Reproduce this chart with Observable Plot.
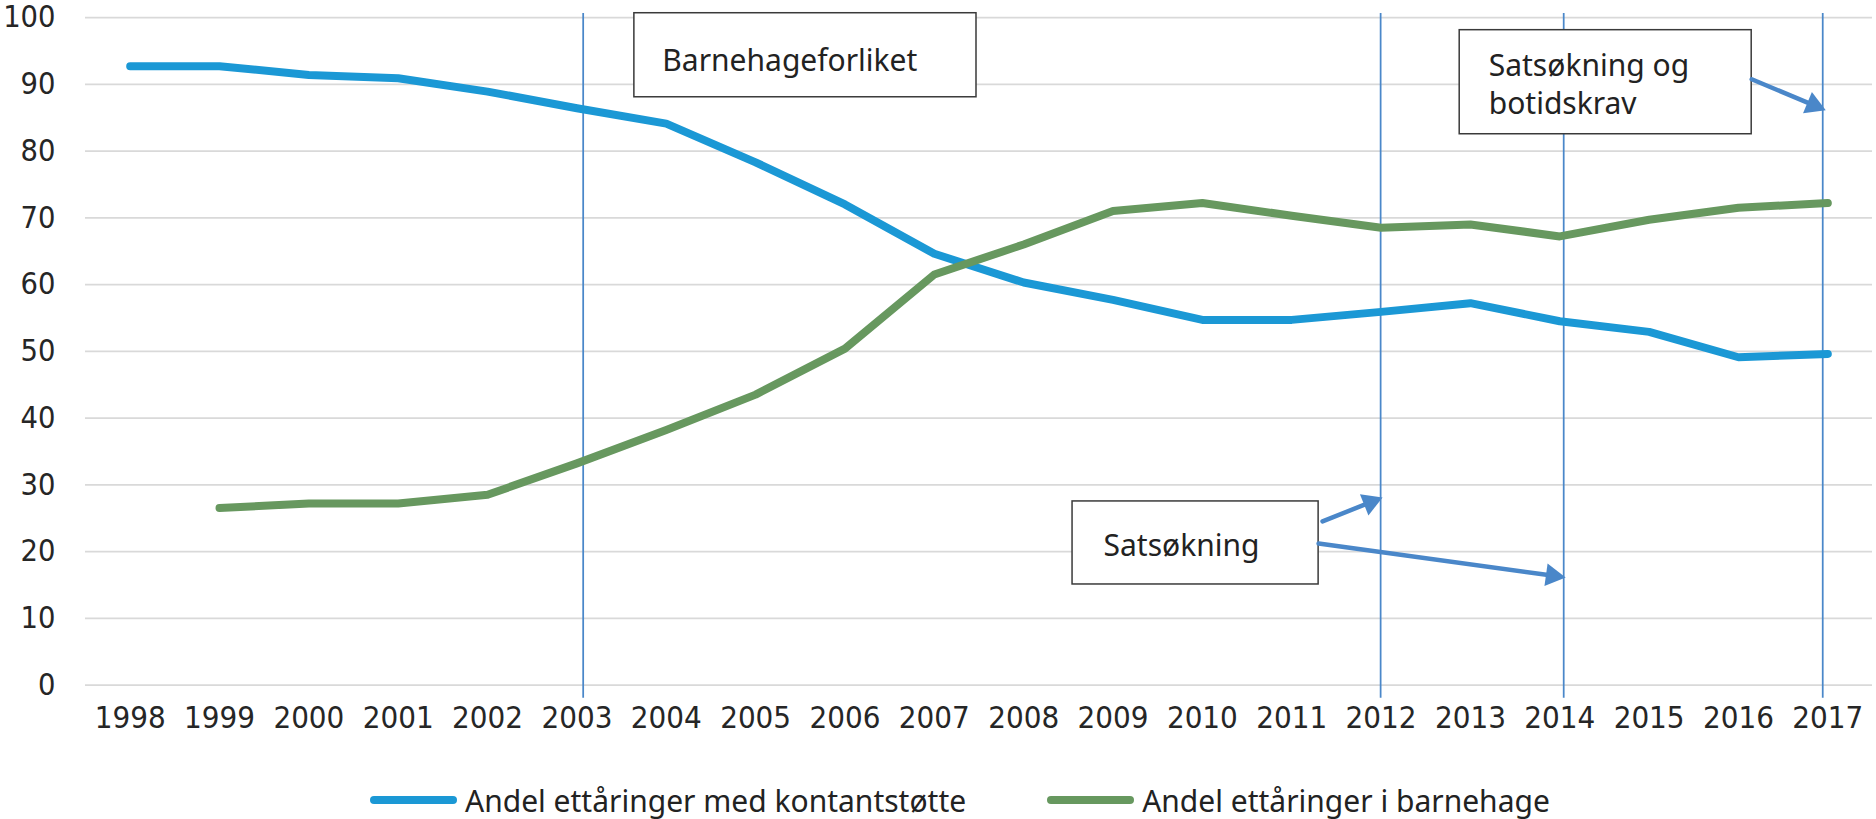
<!DOCTYPE html>
<html>
<head>
<meta charset="utf-8">
<script src="https://cdn.jsdelivr.net/npm/d3@7"></script>
<script src="https://cdn.jsdelivr.net/npm/@observablehq/plot@0.6"></script>
<style>
  body { margin: 0; background: #fff; }
  #chart { width: 1876px; }
  .legend { height: 59px; box-sizing: border-box; padding-top: 21px; padding-left: 370px; display: flex; align-items: center;
            font-family: "Noto Sans", sans-serif; font-size: 30px; color: #222; }
  .sw { width: 87px; height: 8px; border-radius: 4px; margin-right: 8px; }
  .item { display: flex; align-items: center; }
</style>
</head>
<body>
<div id="chart"></div>
<script>
// ---- data ----
const years = [1998,1999,2000,2001,2002,2003,2004,2005,2006,2007,2008,2009,2010,2011,2012,2013,2014,2015,2016,2017];
const kontantstotte = [92.7,92.7,91.4,90.9,88.9,86.4,84.1,78.3,72.0,64.6,60.3,57.7,54.7,54.7,55.9,57.2,54.5,52.9,49.1,49.6];
const barnehage = [null,26.5,27.2,27.2,28.5,33.2,38.2,43.5,50.4,61.5,66.0,71.0,72.2,70.3,68.5,69.0,67.2,69.7,71.5,72.2];
const seriesNames = ["Andel ettåringer med kontantstøtte", "Andel ettåringer i barnehage"];
const seriesColors = ["#1b98d5", "#67985f"];
const yTicks = [0,10,20,30,40,50,60,70,80,90,100];

// event lines (years, as drawn)
const eventYears = [2003.07, 2011.995, 2014.044, 2016.943];
const eventBottom = -2;
const eventTop = 100.6;

// annotation boxes
const boxLabels = ["Barnehageforliket", "Satsøkning og\nbotidskrav", "Satsøkning"];
const boxX1 = [2003.643, 2012.88, 2008.547];
const boxX2 = [2007.472, 2016.148, 2011.301];
const boxY1 = [100.64, 98.1, 27.5];
const boxY2 = [88.05, 82.51, 15.06];
const boxTextX = [2003.956, 2013.205, 2008.894];
const boxTextY = [95.94, 95.19, 23.25];

// arrows
const arrowX1 = [2016.148, 2011.345, 2011.301];
const arrowY1 = [90.75, 24.51, 21.21];
const arrowX2 = [2016.977, 2012.017, 2014.066];
const arrowY2 = [86.11, 28.10, 16.11];

// ---- layout ----
const W = 1876, H = 760, mL = 85, mR = 4, mT = 17, mB = 75.5;
const xDomain = [1997.5, 2017.5];
const yDomain = [0, 100];
const sx = d3.scaleLinear(xDomain, [mL, W - mR]);
const sy = d3.scaleLinear(yDomain, [H - mB, mT]);

const rows = [];
years.forEach((yr, i) => {
  rows.push({year: yr, value: kontantstotte[i], series: seriesNames[0]});
  if (barnehage[i] != null) rows.push({year: yr, value: barnehage[i], series: seriesNames[1]});
});
const boxes = boxLabels.map((t, i) => ({text: t, x1: boxX1[i], x2: boxX2[i], y1: boxY1[i], y2: boxY2[i], tx: boxTextX[i], ty: boxTextY[i]}));
const arrows = arrowX1.map((_, i) => {
  const px = sx(arrowX2[i]) - sx(arrowX1[i]);
  const py = sy(arrowY2[i]) - sy(arrowY1[i]);
  const ang = Math.atan2(py, px);
  return {x1: arrowX1[i], y1: arrowY1[i], x2: arrowX2[i], y2: arrowY2[i], ang};
});
const arrowColor = "#4a87c9";
const headR = 8.5;
const headMarks = arrows.map(a => {
  const d = 1.555 * headR;
  return Plot.dot([a], {x: "x2", y: "y2", symbol: "triangle", r: headR, fill: arrowColor, stroke: "none",
    rotate: a.ang * 180 / Math.PI + 90, dx: -d * Math.cos(a.ang), dy: -d * Math.sin(a.ang)});
});

const chart = Plot.plot({
  width: W, height: H, marginLeft: mL, marginRight: mR, marginTop: mT, marginBottom: mB,
  style: {fontFamily: "'DejaVu Sans Condensed', 'DejaVu Sans', sans-serif", fontSize: "31px", color: "#262626", background: "#fff", overflow: "visible"},
  x: {type: "linear", domain: xDomain},
  y: {domain: yDomain},
  color: {domain: seriesNames, range: seriesColors},
  marks: [
    Plot.ruleY(yTicks, {stroke: "#d9d9d9", strokeWidth: 1.75}),
    Plot.ruleX(eventYears, {y1: eventBottom, y2: eventTop, stroke: arrowColor, strokeWidth: 1.75}),
    Plot.axisY({ticks: yTicks, tickSize: 0, tickPadding: 30, fontSize: 30.5}),
    Plot.axisX({ticks: years, tickSize: 0, tickPadding: 21, tickFormat: d => String(d), fontSize: 31}),
    Plot.line(rows, {x: "year", y: "value", z: "series", stroke: "series", strokeWidth: 8, strokeLinecap: "round", strokeLinejoin: "round"}),
    Plot.rect(boxes, {x1: "x1", x2: "x2", y1: "y1", y2: "y2", fill: "#fff", stroke: "#3a3a3a", strokeWidth: 1.5}),
    Plot.text(boxes, {x: "tx", y: "ty", text: "text", textAnchor: "start", lineAnchor: "top", lineHeight: 1.25,
      fontSize: 30, fontFamily: "Noto Sans", fill: "#222"}),
    Plot.arrow(arrows, {x1: "x1", y1: "y1", x2: "x2", y2: "y2", stroke: arrowColor, strokeWidth: 4.5, headLength: 0, insetEnd: 12}),
    ...headMarks
  ]
});
document.getElementById("chart").appendChild(chart);

const legend = document.createElement("div");
legend.className = "legend";
seriesNames.forEach((name, i) => {
  const item = document.createElement("div");
  item.className = "item";
  if (i > 0) item.style.marginLeft = "81px";
  const sw = document.createElement("div");
  sw.className = "sw";
  sw.style.background = seriesColors[i];
  const lab = document.createElement("span");
  lab.textContent = name;
  item.appendChild(sw); item.appendChild(lab);
  legend.appendChild(item);
});
document.getElementById("chart").appendChild(legend);
</script>
</body>
</html>
